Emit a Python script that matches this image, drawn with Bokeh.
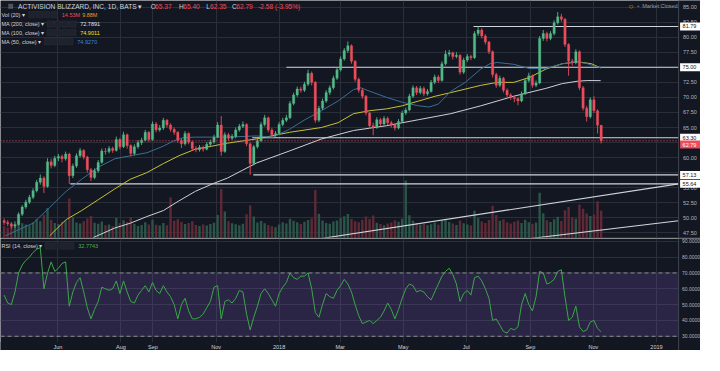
import numpy as np
import pandas as pd
from bokeh.plotting import figure
from bokeh.layouts import column
from bokeh.models import (Range1d, FixedTicker, Label, Span, BoxAnnotation, ColumnDataSource)
from bokeh.embed import file_html
from bokeh.resources import INLINE

# ---------------- data ----------------
close_ = [
    49.2, 49.0, 48.6, 48.9, 50.6, 51.8, 52.6, 53.4, 54.5, 55.9,
    56.6, 55.2, 59.3, 58.7, 59.9, 60.2, 59.8, 60.6, 57.0, 58.6,
    60.3, 61.2, 60.1, 58.0, 56.7, 57.8, 59.2, 61.1, 61.0, 61.5,
    61.2, 63.0, 61.8, 63.8, 62.0, 60.7, 61.8, 62.5, 62.9, 64.2,
    63.0, 65.6, 64.6, 64.9, 66.2, 65.4, 64.7, 64.2, 62.9, 62.3,
    64.0, 62.6, 61.5, 61.3, 61.7, 61.4, 62.2, 62.6, 63.4, 65.4,
    61.0, 63.8, 63.2, 63.5, 64.6, 65.2, 65.5, 62.3, 59.0, 61.8,
    62.8, 65.5, 66.6, 64.6, 63.8, 64.0, 65.5, 66.2, 66.6, 69.0,
    70.4, 71.4, 71.2, 72.2, 74.0, 72.5, 66.2, 68.2, 69.4, 70.8,
    71.6, 73.2, 74.6, 76.4, 77.8, 78.6, 76.0, 73.0, 71.2, 70.2,
    67.4, 65.3, 65.0, 66.3, 65.6, 66.5, 65.8, 65.4, 64.9, 66.0,
    67.4, 67.9, 70.2, 71.6, 70.8, 71.5, 70.6, 71.0, 72.5, 73.4,
    72.8, 75.6, 77.2, 77.4, 76.8, 77.0, 74.2, 76.2, 76.8, 76.6,
    80.6, 81.2, 80.2, 79.2, 77.6, 73.8, 72.0, 73.2, 71.2, 70.4,
    70.0, 69.8, 69.4, 70.6, 72.8, 73.6, 72.0, 72.4, 79.8, 80.6,
    79.8, 80.6, 82.4, 83.4, 83.0, 78.8, 76.0, 75.8, 77.6, 71.6,
    68.2, 66.8, 69.6, 67.8, 65.37, 62.79]
high_ = [
    49.9, 49.6, 49.3, 49.4, 50.9, 52.1, 53.0, 53.8, 54.9, 56.3,
    57.2, 56.9, 59.9, 59.8, 60.3, 60.6, 60.5, 61.0, 60.8, 59.0,
    60.7, 61.6, 61.4, 60.3, 58.3, 58.2, 59.6, 61.5, 61.6, 61.9,
    61.8, 63.5, 63.3, 64.3, 64.0, 62.2, 62.2, 62.9, 63.3, 64.6,
    64.4, 66.0, 65.9, 65.4, 66.6, 66.4, 65.7, 65.0, 64.4, 63.2,
    64.4, 64.2, 62.8, 61.9, 62.1, 62.0, 62.6, 63.0, 63.8, 65.9,
    66.9, 64.2, 64.1, 63.9, 65.0, 65.6, 66.0, 65.7, 62.5, 62.1,
    63.2, 65.9, 67.1, 66.8, 64.9, 64.4, 65.9, 66.6, 67.1, 69.4,
    70.8, 71.8, 71.8, 72.6, 74.6, 74.3, 72.7, 68.6, 69.8, 71.2,
    72.0, 73.6, 75.0, 76.8, 78.2, 79.3, 78.8, 76.2, 73.3, 71.5,
    70.4, 67.6, 65.8, 66.7, 66.6, 66.9, 66.8, 66.1, 65.7, 66.4,
    67.8, 68.3, 70.6, 72.0, 71.9, 71.9, 71.8, 71.4, 72.9, 73.8,
    73.7, 76.0, 77.8, 77.9, 77.6, 77.5, 77.2, 76.6, 77.2, 77.1,
    81.0, 81.79, 81.5, 80.5, 79.4, 77.8, 74.1, 73.6, 73.4, 71.5,
    70.7, 70.3, 70.0, 71.0, 73.2, 74.1, 73.8, 72.8, 80.2, 81.2,
    80.9, 81.0, 82.8, 84.2, 83.9, 83.2, 79.0, 76.4, 78.0, 77.8,
    71.9, 68.6, 70.0, 70.2, 68.0, 65.40]
low_ = [
    48.8, 48.6, 48.2, 48.3, 48.7, 50.3, 51.5, 52.3, 53.1, 54.2,
    55.5, 54.1, 55.0, 58.2, 58.4, 59.4, 59.2, 59.5, 55.64, 56.6,
    58.3, 60.0, 59.7, 57.5, 56.1, 56.4, 57.5, 59.0, 60.5, 60.7,
    60.8, 61.0, 61.4, 61.6, 61.5, 60.2, 60.4, 61.5, 62.1, 62.7,
    62.6, 62.8, 64.2, 64.3, 64.6, 65.0, 64.3, 63.8, 62.5, 61.6,
    62.0, 62.2, 61.1, 60.9, 61.0, 61.0, 61.2, 61.9, 62.3, 63.2,
    60.3, 60.8, 62.8, 62.9, 63.2, 64.3, 64.9, 61.9, 57.13, 58.7,
    61.5, 62.6, 65.2, 64.2, 63.4, 63.5, 63.8, 65.2, 65.9, 66.4,
    68.7, 70.1, 70.8, 70.9, 71.9, 72.0, 65.8, 65.9, 67.9, 69.1,
    70.4, 71.3, 72.9, 74.3, 76.1, 77.4, 75.6, 72.6, 70.8, 69.8,
    67.0, 64.8, 63.7, 64.8, 65.2, 65.3, 65.4, 65.0, 64.5, 64.7,
    65.8, 67.1, 67.7, 69.9, 70.4, 70.5, 70.2, 70.3, 70.8, 72.2,
    72.4, 72.6, 75.3, 76.8, 76.3, 76.5, 73.8, 73.9, 75.9, 76.2,
    76.4, 80.2, 79.8, 78.8, 77.2, 73.3, 71.6, 71.7, 70.8, 70.0,
    69.6, 69.2, 68.7, 69.2, 70.4, 72.5, 71.6, 71.7, 72.2, 79.4,
    79.3, 79.5, 80.3, 82.1, 82.6, 78.4, 73.6, 75.3, 75.5, 71.2,
    67.8, 66.0, 66.5, 67.4, 64.0, 62.35]
first_open = 49.5
last_open = 65.37
volume_m = [
    6.5, 5.8, 7.2, 6.0, 9.5, 8.0, 7.4, 6.8, 8.6, 10.2,
    9.0, 12.5, 16.0, 9.8, 8.2, 7.6, 8.8, 9.4, 21.0, 11.0,
    8.4, 7.9, 9.1, 10.5, 11.8, 8.3, 7.7, 8.9, 6.9, 7.3,
    6.4, 10.8, 8.1, 9.6, 8.7, 11.2, 7.8, 6.6, 7.1, 8.5,
    7.4, 9.9, 7.2, 6.8, 8.1, 7.0, 21.5, 9.3, 10.1, 8.7,
    7.6, 8.2, 9.0, 7.1, 6.5, 7.3, 6.8, 7.6, 8.3, 12.4,
    26.0, 14.2, 9.1, 8.0, 7.5, 6.9, 7.8, 12.8, 17.5, 11.6,
    8.4, 9.2, 8.0, 7.1, 6.4, 5.9, 7.3, 8.6, 7.9, 10.4,
    9.3, 8.5, 7.6, 8.8, 9.7, 10.6, 25.5, 13.0, 9.4, 8.2,
    7.7, 8.9, 9.5, 10.8, 11.7, 12.9, 10.3, 9.1, 8.6, 9.8,
    11.5, 10.2, 12.1, 8.3, 7.6, 7.0, 7.9, 8.4, 9.6, 8.8,
    10.4, 30.5, 12.2, 9.3, 8.1, 7.4, 7.8, 6.9, 7.5, 8.4,
    7.2, 9.6, 10.2, 8.7, 7.9, 7.1, 9.4, 8.0, 7.3, 6.8,
    14.6, 10.8, 8.9, 8.1, 9.7, 17.2, 12.4, 9.3, 10.1, 8.6,
    7.9, 8.8, 9.5, 8.2, 9.9, 8.6, 7.8, 8.4, 24.0, 13.2,
    9.6, 8.7, 10.1, 11.4, 9.2, 14.8, 16.5, 11.2, 10.4, 17.8,
    15.6, 13.1, 11.8, 12.6, 19.5, 14.53]
rsi_ = [
    56, 51, 50, 58, 70, 75, 78, 80, 83, 85,
    86, 60, 70, 77, 71, 73, 76, 77, 49, 58,
    64, 67, 58, 48, 41, 47, 52, 61, 60, 59,
    60, 65, 57, 65, 58, 52, 51, 56, 59, 62,
    58, 64, 59, 57, 62, 58, 55, 50, 41, 50,
    54, 46, 41, 41, 42, 44, 48, 52, 61, 62,
    41, 52, 53, 51, 54, 59, 58, 44, 34, 42,
    49, 57, 60, 57, 53, 49, 57, 61, 64, 70,
    67, 66, 68, 68, 70, 60, 45, 42, 50, 57,
    55, 54, 59, 62, 66, 63, 58, 50, 43, 38,
    39, 40, 38, 40, 42, 46, 51, 47, 41, 47,
    54, 60, 63, 62, 58, 59, 58, 55, 53, 58,
    63, 68, 71, 73, 69, 63, 52, 57, 59, 56,
    67, 68, 65, 60, 54, 40, 41, 37, 33, 32,
    35, 34, 36, 50, 57, 50, 46, 55, 71, 70,
    63, 64, 66, 71, 72, 55, 40, 42, 49, 36,
    33, 34, 39, 40, 35, 32.77]

ma50_dates = ["2017-04-11", "2017-05-08", "2017-05-24", "2017-06-09", "2017-06-24", "2017-07-10",
              "2017-07-26", "2017-08-10", "2017-08-26", "2017-09-11", "2017-09-20", "2017-09-30",
              "2017-10-12", "2017-10-28", "2017-11-12", "2017-12-10", "2017-12-26", "2018-01-11",
              "2018-01-26", "2018-02-11", "2018-02-27", "2018-03-14", "2018-03-21", "2018-03-30",
              "2018-04-15", "2018-04-30", "2018-05-16", "2018-05-26", "2018-06-04", "2018-06-16",
              "2018-06-30", "2018-07-15", "2018-07-24", "2018-07-31", "2018-08-16", "2018-08-31",
              "2018-09-16", "2018-10-02", "2018-10-17", "2018-10-26", "2018-11-08"]
ma50_vals = [47.0, 49.1, 51.7, 54.4, 56.4, 58.4, 59.8, 60.3, 60.8, 61.9, 62.7, 63.3,
             63.4, 63.4, 63.4, 63.6, 63.4, 64.7, 66.3, 67.8, 69.4, 71.3, 71.6, 71.0,
             70.0, 69.2, 68.6, 68.4, 68.9, 71.0, 72.5, 74.7, 75.6, 75.8, 75.5, 74.8,
             74.8, 75.6, 75.9, 75.6, 74.927]
ma100_dates = ["2017-05-24", "2017-06-09", "2017-06-24", "2017-07-10", "2017-07-26", "2017-08-10",
               "2017-08-26", "2017-09-11", "2017-09-26", "2017-10-12", "2017-10-28", "2017-11-12",
               "2017-12-10", "2018-01-11", "2018-02-11", "2018-02-27", "2018-03-14", "2018-03-30",
               "2018-04-15", "2018-04-30", "2018-05-16", "2018-06-01", "2018-06-16", "2018-07-15",
               "2018-07-31", "2018-08-16", "2018-08-31", "2018-09-16", "2018-10-02", "2018-10-17",
               "2018-10-30", "2018-11-08"]
ma100_vals = [47.0, 49.7, 51.2, 53.0, 54.8, 56.4, 57.5, 59.0, 60.3, 61.4, 61.9, 62.4,
              63.1, 64.2, 65.0, 65.8, 67.3, 67.8, 68.1, 68.6, 69.4, 70.2, 70.8, 72.0,
              72.5, 72.5, 73.3, 74.7, 75.6, 75.9, 75.6, 74.901]
ma200_dates = ["2017-07-05", "2017-07-26", "2017-08-10", "2017-08-26", "2017-09-11", "2017-09-26",
               "2017-10-12", "2017-10-28", "2017-11-12", "2017-12-10", "2018-01-11", "2018-02-11",
               "2018-03-14", "2018-04-15", "2018-05-16", "2018-06-16", "2018-07-15", "2018-08-16",
               "2018-09-16", "2018-10-02", "2018-10-17", "2018-10-26", "2018-11-08"]
ma200_vals = [46.7, 48.3, 49.1, 50.2, 51.2, 52.8, 54.4, 55.6, 56.6, 59.1, 61.1, 63.1,
              64.5, 65.3, 66.3, 67.3, 68.6, 70.2, 71.5, 72.3, 72.7, 72.8, 72.789]

# drawn horizontal levels and trend lines
hl_levels = [81.79, 75.00, 63.30, 57.13, 55.64]
hl_starts = ["2018-07-08", "2018-01-08", "2017-12-06", "2017-12-07", "2017-06-13"]
tl_x0 = ["2018-02-11", "2018-09-01"]
tl_y0 = [46.56, 46.56]
tl_x1 = ["2019-01-22 10:00", "2019-01-22 10:00"]
tl_y1 = [55.64, 49.5]
last_price = 62.79

price_ticks = [47.5, 50.0, 52.5, 55.0, 57.5, 60.0, 62.5, 65.0, 67.5, 70.0, 72.5, 75.0,
               77.5, 80.0, 82.5, 85.0]
rsi_ticks = [30, 40, 50, 60, 70, 80, 90]
month_dates = ["2017-06-01", "2017-08-01", "2017-09-01", "2017-11-01", "2018-01-01",
               "2018-03-01", "2018-05-01", "2018-07-01", "2018-09-01", "2018-11-01", "2019-01-01"]
month_labels = ["Jun", "Aug", "Sep", "Nov", "2018", "Mar", "May", "Jul", "Sep", "Nov", "2019"]

# ---------------- styling / layout ----------------
BG = "#131722"
GRID = "#2a2e39"
AXLINE = "#434651"
UP = "#53b987"
DOWN = "#eb4d5c"
FONT = "Liberation Sans"
W, H1, H2 = 700, 238, 112
SX, SY = 700 / 720, 350 / 371

def sx(x):
    return x * SX

def sy1(y):
    return H1 - y * SY

def sy2(y):
    return H2 - (y - 253) * SY

def ms(d):
    return float(pd.Timestamp(d).value // 10**6)

X_START, X_END = "2017-04-06 12:00", "2019-02-12 14:00"
AXIS_X = ms("2019-01-22 10:00")      # price-scale border
RSI_BOTTOM = 26.4                    # bottom of the RSI pane (above the time labels)
DAY = 86400000.0

n = len(close_)
dates = pd.date_range("2017-04-10", periods=n, freq="84h")
open_ = [first_open] + close_[:-1]
open_[-1] = last_open
top, bot, col, vcol = [], [], [], []
for o, c in zip(open_, close_):
    t, b = max(o, c), min(o, c)
    if t - b < 0.08:
        t = b + 0.08
    top.append(t)
    bot.append(b)
    col.append(UP if c >= o else DOWN)
    vcol.append("#2b5548" if c >= o else "#5f2a36")
src = ColumnDataSource(dict(date=dates, high=high_, low=low_, top=top, bottom=bot,
                            color=col, vcolor=vcol, vol=volume_m, rsi=rsi_))

xr = Range1d(start=pd.Timestamp(X_START), end=pd.Timestamp(X_END))
ticks_ms = [ms(d) for d in month_dates]

def base_fig(h, yr):
    f = figure(width=W, height=h, x_range=xr, y_range=yr,
               x_axis_type="datetime", x_axis_location=None, y_axis_location=None,
               output_backend="svg", toolbar_location=None,
               background_fill_color=BG, border_fill_color=BG,
               min_border_left=0, min_border_top=0, min_border_bottom=0, min_border_right=0)
    f.outline_line_color = None
    f.xgrid.ticker = FixedTicker(ticks=ticks_ms)
    f.xgrid.grid_line_color = GRID
    f.ygrid.grid_line_color = GRID
    return f

def lab(fig, x, y, text, color, size="6px", xu="screen", yu="screen", **kw):
    fig.add_layout(Label(x=x, y=y, x_units=xu, y_units=yu, text=text, text_color=color,
                         text_font_size=size, text_font=FONT, text_baseline="middle", **kw))

def boxes(fig, x0, yc):
    for k in range(4):
        l = sx(x0 + k * 7.7)
        fig.add_layout(BoxAnnotation(left=l, right=l + 6.4, bottom=yc - 3.2, top=yc + 3.2,
                                     left_units="screen", right_units="screen",
                                     top_units="screen", bottom_units="screen",
                                     fill_color="#1e222d", fill_alpha=1,
                                     line_color=AXLINE, line_width=0.8))

NB = "\u00a0"

# ---------------- price pane ----------------
p1 = base_fig(H1, Range1d(46.56, 86.1))
p1.ygrid.ticker = FixedTicker(ticks=price_ticks)

p1.extra_y_ranges = {"vol": Range1d(0, 125)}
p1.vbar(x="date", width=2.3 * DAY, top="vol", bottom=0, y_range_name="vol",
        fill_color="vcolor", line_color=None, source=src)

p1.segment(x0=pd.to_datetime(hl_starts), y0=hl_levels, x1=pd.Timestamp(X_END),
           y1=hl_levels, line_color="#d1d4dc", line_width=1.1)
p1.segment(x0=pd.to_datetime(tl_x0), y0=tl_y0, x1=pd.to_datetime(tl_x1), y1=tl_y1,
           line_color="#d1d4dc", line_width=1.1)

p1.line(pd.to_datetime(ma200_dates), ma200_vals, line_color="#cfd0d4", line_width=1)
p1.line(pd.to_datetime(ma100_dates), ma100_vals, line_color="#c8c232", line_width=1)
p1.line(pd.to_datetime(ma50_dates), ma50_vals, line_color="#3a6f96", line_width=1)

p1.segment(x0="date", y0="low", x1="date", y1="high", line_color="color", line_width=0.9, source=src)
p1.vbar(x="date", width=2.3 * DAY, top="top", bottom="bottom", fill_color="color",
        line_color="color", line_width=0.3, source=src)

p1.add_layout(Span(location=last_price, dimension="width", line_color=DOWN,
                   line_dash="1 2", line_width=1))

# price scale area
p1.add_layout(BoxAnnotation(left=AXIS_X, fill_color=BG, fill_alpha=1, line_color=None))
p1.add_layout(Span(location=AXIS_X, dimension="height", line_color=AXLINE, line_width=1))
p1.add_layout(Span(location=46.56, dimension="width", line_color=AXLINE, line_width=2))
for t in price_ticks:
    lab(p1, sx(702), t, f"{t:.2f}", "#b2b5be", size="5.5px", yu="data")
for lv in hl_levels:
    lab(p1, sx(699), lv, NB + f"{lv:.2f}" + NB + NB, "#131722", size="5.5px", yu="data",
        background_fill_color="#ffffff", background_fill_alpha=1, padding=1)
# the last-price tag is pushed down below the 63.30 tag, as the price scale does
lab(p1, sx(699), last_price, NB + f"{last_price:.2f}" + NB + NB, "#ffffff", size="5.5px",
    yu="data", background_fill_color=DOWN, background_fill_alpha=1, padding=1,
    y_offset=-4 * SY)

# legend texts
fig_y = sy1(6)
p1.add_layout(BoxAnnotation(left=sx(8), right=sx(13), bottom=fig_y - 2.5, top=fig_y + 2.5,
                            left_units="screen", right_units="screen", top_units="screen",
                            bottom_units="screen", fill_color="#787b86", fill_alpha=0.6,
                            line_color=None))
lab(p1, sx(18), fig_y, "ACTIVISION BLIZZARD, INC, 1D, BATS \u25be", "#d1d4dc", size="6.6px")
for letter, x_l, val, x_v in [("O", 154.5, "65.37", 159), ("H", 183.5, "65.40", 188),
                              ("L", 211.5, "62.35", 215.5), ("C", 238, "62.79", 242.5)]:
    lab(p1, sx(x_l), fig_y, letter, "#d1d4dc", size="6.6px")
    lab(p1, sx(x_v), fig_y, val, DOWN, size="6.6px")
lab(p1, sx(265), fig_y, "-2.58 (-3.95%)", DOWN, size="6.6px")

rows = [(15, "Vol (20) \u25be", 29, [("14.53M", 63, DOWN), ("9.88M", 84, "#e89a2a")]),
        (25, "MA (200, close) \u25be", 48, [("72.7891", 82, "#e0e3eb")]),
        (34, "MA (100, close) \u25be", 48, [("74.9011", 82, "#e8e81e")]),
        (43.5, "MA (50, close) \u25be", 45, [("74.9270", 79, "#3d8bd0")])]
for y, name, bx, vals in rows:
    yc = sy1(y)
    lab(p1, sx(1), yc, name, "#d1d4dc", size="5.5px")
    boxes(p1, bx, yc)
    for t, xv, cc in vals:
        lab(p1, sx(xv), yc, t, cc, size="5.5px")

mc_y = sy1(6)
lab(p1, sx(646), mc_y, "\u25cb", "#ff9800", size="8px")
lab(p1, sx(655), mc_y, "\u2022", "#787b86", size="6px")
lab(p1, sx(660), mc_y, "Market Closed", "#9598a1", size="5.5px")

# ---------------- RSI pane ----------------
p2 = base_fig(H2, Range1d(21.0, 91.8))
p2.ygrid.ticker = FixedTicker(ticks=rsi_ticks)

p2.add_layout(BoxAnnotation(bottom=30, top=70, fill_color="#7e57c2", fill_alpha=0.22,
                            line_color=None, level="underlay"))
for lv in (30, 70):
    p2.add_layout(Span(location=lv, dimension="width", line_color="#8a8d98",
                       line_dash="4 3", line_width=1))
p2.line(x="date", y="rsi", source=src, line_color="#3aa845", line_width=1)

# time scale + price scale areas
p2.add_layout(BoxAnnotation(top=RSI_BOTTOM, fill_color=BG, fill_alpha=1, line_color=None))
p2.add_layout(BoxAnnotation(left=AXIS_X, fill_color=BG, fill_alpha=1, line_color=None))
p2.add_layout(Span(location=AXIS_X, dimension="height", line_color=AXLINE, line_width=1))
for t in rsi_ticks:
    lab(p2, sx(701), t, f"{t:.4f}", "#b2b5be", size="5px", yu="data")
for t, s in zip(ticks_ms, month_labels):
    lab(p2, t, 23.4, s, "#d1d4dc", size="5.5px", xu="data", yu="data", text_align="center")

ry = sy2(261)
lab(p2, sx(1), ry, "RSI (14, close) \u25be", "#d1d4dc", size="5.5px")
boxes(p2, 46, ry)
lab(p2, sx(80), ry, "32.7743", "#4caf50", size="5.5px")

layout = column(p1, p2)
open("out.html", "w").write(file_html(layout, INLINE))
